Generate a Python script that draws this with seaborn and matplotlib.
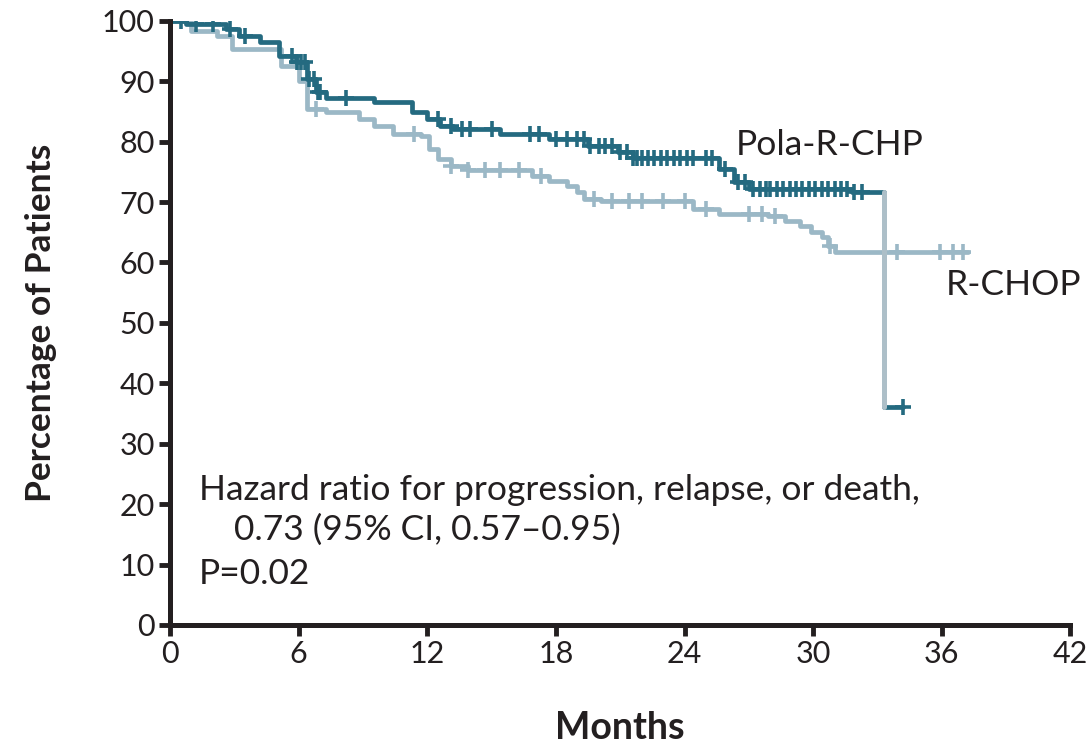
import numpy as np
import pandas as pd
import matplotlib
matplotlib.use("Agg")
import matplotlib.pyplot as plt
import seaborn as sns

# ---- data ----
pola_times = [0, 0.75, 2.6, 3.2, 4.2, 5.1, 5.9, 6.4, 6.8, 7.3, 9.5, 11.3, 12.0, 12.6, 13.2,
              15.4, 17.7, 19.5, 20.9, 21.6, 25.6, 26.3, 27.0, 31.8, 33.3, 34.2]
pola_surv = [100, 99.5, 98.7, 97.5, 96.5, 94.2, 93.2, 90.4, 88.2, 87.2, 86.6, 84.9, 83.7, 82.6, 82.1,
             81.3, 80.4, 79.3, 78.3, 77.3, 75.5, 73.3, 72.1, 71.6, 36.0, 36.0]
pola_censor = [0.5, 1.2, 2.0, 2.8, 3.5, 5.7, 5.95, 6.1, 6.3, 6.5, 6.7, 6.9, 7.0, 8.2, 12.5, 13.1,
               13.6, 14.0, 15.0, 16.8, 17.2, 18.0, 18.5, 19.0, 19.3, 19.6, 20.0, 20.3, 20.6, 21.0,
               21.3, 21.6, 21.8, 22.0, 22.3, 22.6, 22.9, 23.2, 23.5, 23.8, 24.1, 24.4, 25.0, 25.3,
               25.9, 26.5, 26.8, 27.2, 27.5, 27.8, 28.0, 28.3, 28.6, 28.9, 29.2, 29.5, 29.8, 30.1,
               30.4, 30.7, 31.0, 31.3, 31.6, 31.9, 32.3, 34.2]

rchop_times = [0, 1.0, 2.2, 2.9, 5.2, 6.0, 6.4, 7.3, 8.8, 9.5, 10.4, 11.7, 12.1, 12.5, 13.1, 13.9,
               16.9, 17.7, 18.5, 19.0, 19.3, 20.1, 24.4, 25.6, 27.9, 28.7, 29.4, 29.9, 30.4, 30.7,
               31.0, 37.2]
rchop_surv = [100, 98.3, 97.5, 95.4, 92.5, 90.0, 85.4, 84.9, 83.7, 82.6, 81.3, 80.9, 78.8, 77.1,
              76.0, 75.3, 74.3, 73.5, 72.6, 71.6, 70.5, 70.1, 68.8, 68.0, 67.7, 66.8, 66.0, 65.0,
              64.2, 62.7, 61.7, 61.7]
rchop_censor = [6.8, 11.4, 13.1, 13.9, 14.7, 15.4, 16.3, 17.3, 19.8, 20.6, 21.4, 22.0, 23.0, 24.0,
                25.0, 27.0, 27.6, 28.2, 30.8, 33.9, 35.9, 36.5, 37.0]

x_ticks = [0, 6, 12, 18, 24, 30, 36, 42]
y_ticks = [0, 10, 20, 30, 40, 50, 60, 70, 80, 90, 100]

DARK = "#246a80"
LIGHT = "#9bb8c6"
DROP = "#adbfc8"
INK = "#231f20"


def step_value(times, surv, t):
    i = np.searchsorted(np.asarray(times), t, side="right") - 1
    return np.asarray(surv)[i]


sns.set_theme(style="ticks")
plt.rcParams["font.family"] = ["Lato", "DejaVu Sans"]

fig = plt.figure(figsize=(10.89, 7.44), dpi=100)
ax = fig.add_axes([0.156, 0.160, 0.827, 0.812])

rchop_df = pd.DataFrame({"Months": rchop_times, "Pct": rchop_surv})
pola_df = pd.DataFrame({"Months": pola_times, "Pct": pola_surv})

sns.lineplot(data=rchop_df, x="Months", y="Pct", ax=ax, color=LIGHT, lw=3.4,
             drawstyle="steps-post", estimator=None, sort=False)
sns.lineplot(data=pola_df, x="Months", y="Pct", ax=ax, color=DARK, lw=3.4,
             drawstyle="steps-post", estimator=None, sort=False)

# vertical drop of Pola curve rendered in light grey as in the reference
drop_t = pola_times[-2]
drop_df = pd.DataFrame({"Months": [drop_t, drop_t],
                        "Pct": [pola_surv[-3], pola_surv[-2]]})
sns.lineplot(data=drop_df, x="Months", y="Pct", ax=ax, color=DROP, lw=3.6,
             estimator=None, sort=False)

rc_df = pd.DataFrame({"Months": rchop_censor,
                      "Pct": [step_value(rchop_times, rchop_surv, t) for t in rchop_censor]})
pc_df = pd.DataFrame({"Months": pola_censor,
                      "Pct": [step_value(pola_times, pola_surv, t) for t in pola_censor]})
sns.scatterplot(data=rc_df, x="Months", y="Pct", ax=ax, marker="+", s=120, color=LIGHT,
                linewidth=2.6, zorder=3)
sns.scatterplot(data=pc_df, x="Months", y="Pct", ax=ax, marker="+", s=120, color=DARK,
                linewidth=2.6, zorder=4)

ax.set_xlim(0, 42)
ax.set_ylim(0, 100)
ax.set_xticks(x_ticks)
ax.set_yticks(y_ticks)
ax.tick_params(axis="both", direction="out", length=8, width=3.5, color=INK,
               labelsize=22, labelcolor=INK, pad=3)
for s in ["top", "right"]:
    ax.spines[s].set_visible(False)
for s in ["left", "bottom"]:
    ax.spines[s].set_linewidth(3.6)
    ax.spines[s].set_color(INK)

ax.set_xlabel("Months", fontsize=27, fontweight="bold", color=INK, labelpad=31)
ax.set_ylabel("Percentage of Patients", fontsize=25.5, fontweight="bold", color=INK, labelpad=32)

ax.text(26.4, 79.4, "Pola-R-CHP", fontsize=25.5, color=INK, va="center", ha="left")
ax.text(36.2, 56.2, "R-CHOP", fontsize=25.5, color=INK, va="center", ha="left")

ax.text(1.35, 22.3, "Hazard ratio for progression, relapse, or death,", fontsize=25.5,
        color=INK, va="center", ha="left")
ax.text(3.0, 15.8, "0.73 (95% CI, 0.57\u20130.95)", fontsize=25.5, color=INK,
        va="center", ha="left")
ax.text(1.35, 8.5, "P=0.02", fontsize=25.5, color=INK, va="center", ha="left")

fig.savefig("out.png", dpi=100)
